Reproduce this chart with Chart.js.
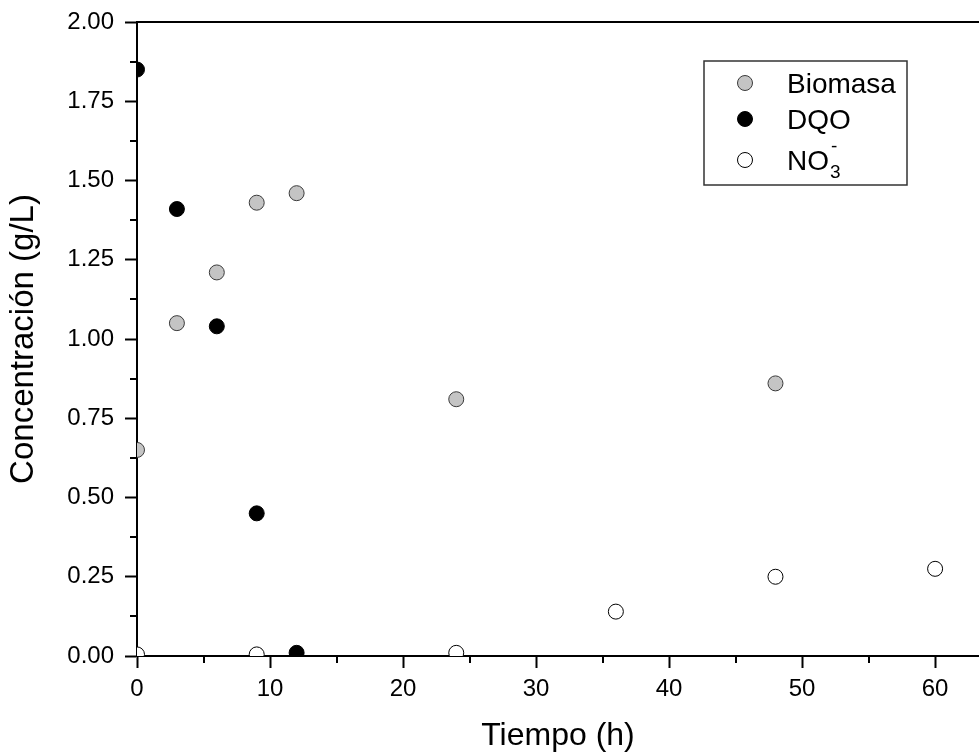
<!DOCTYPE html>
<html><head><meta charset="utf-8">
<script src="https://cdn.jsdelivr.net/npm/chart.js@4/dist/chart.umd.min.js"></script>
<style>html,body{margin:0;padding:0;background:#fff}#wrap{width:979px;height:755px}</style>
</head><body><div id="wrap"><canvas id="c" width="979" height="755"></canvas></div>
<script>
// ---- data ----
const biomasaTime = [0, 3, 6, 9, 12, 24, 48];
const biomasaConc = [0.65, 1.05, 1.21, 1.43, 1.46, 0.81, 0.86];
const dqoTime = [0, 3, 6, 9, 12];
const dqoConc = [1.85, 1.41, 1.04, 0.45, 0.01];
const no3Time = [0, 9, 24, 36, 48, 60];
const no3Conc = [0.005, 0.005, 0.01, 0.14, 0.25, 0.275];
const seriesNames = ['Biomasa', 'DQO', 'NO3-'];
const xMajorTicks = [0, 10, 20, 30, 40, 50, 60];
const xMinorTicks = [5, 15, 25, 35, 45, 55];
const yMajorTicks = [0, 0.25, 0.5, 0.75, 1.0, 1.25, 1.5, 1.75, 2.0];
const yMinorTicks = [0.125, 0.375, 0.625, 0.875, 1.125, 1.375, 1.625, 1.875];
const xTitle = 'Tiempo (h)';
const yTitle = 'Concentración (g/L)';

const FONT = '"Liberation Sans", Arial, Helvetica, sans-serif';
const toPts = (xs, ys) => xs.map((x, i) => ({x: x, y: ys[i]}));

const extras = {
  id: 'extras',
  afterDraw(chart) {
    const ctx = chart.ctx, a = chart.chartArea;
    const xs = chart.scales.x, ys = chart.scales.y;
    ctx.save();
    ctx.strokeStyle = '#000';
    ctx.lineWidth = 2;
    // top frame line
    ctx.beginPath();
    ctx.moveTo(a.left, a.top);
    ctx.lineTo(chart.width, a.top);
    ctx.stroke();
    // minor ticks
    xMinorTicks.forEach(v => {
      const p = Math.round(xs.getPixelForValue(v));
      ctx.beginPath(); ctx.moveTo(p, a.bottom); ctx.lineTo(p, a.bottom + 7); ctx.stroke();
    });
    yMinorTicks.forEach(v => {
      const p = Math.round(ys.getPixelForValue(v));
      ctx.beginPath(); ctx.moveTo(a.left, p); ctx.lineTo(a.left - 7, p); ctx.stroke();
    });
    // legend box
    const bx = 704, by = 61, bw = 203, bh = 124;
    ctx.lineWidth = 1.5;
    ctx.strokeStyle = '#333';
    ctx.strokeRect(bx, by, bw, bh);
    const rowY = [83, 119, 160];
    chart.data.datasets.forEach((ds, i) => {
      const cy = rowY[i];
      ctx.beginPath();
      ctx.arc(745, cy, 7.5, 0, Math.PI * 2);
      ctx.fillStyle = ds.pointBackgroundColor;
      ctx.fill();
      ctx.lineWidth = 1;
      ctx.strokeStyle = ds.pointBorderColor;
      ctx.stroke();
      ctx.fillStyle = '#000';
      ctx.textBaseline = 'alphabetic';
      ctx.textAlign = 'left';
      ctx.font = '28px ' + FONT;
      const m = /^([A-Za-z]+)(\d)(-)$/.exec(ds.label);
      if (m) {
        ctx.fillText(m[1], 787, cy + 10);
        const w = ctx.measureText(m[1]).width;
        ctx.font = '19px ' + FONT;
        ctx.fillText('-', w + 789, cy - 8);
        ctx.fillText(m[2], w + 788, cy + 18);
      } else {
        ctx.fillText(ds.label, 787, cy + 10);
      }
    });
    ctx.restore();
  }
};

const common = {pointRadius: 7.5, pointHoverRadius: 7.5, pointBorderWidth: 1, showLine: false, clip: 0};

new Chart(document.getElementById('c'), {
  type: 'scatter',
  data: {
    datasets: [
      Object.assign({label: seriesNames[0], data: toPts(biomasaTime, biomasaConc),
        pointBackgroundColor: '#c4c4c4', pointBorderColor: '#3a3a3a'}, common),
      Object.assign({label: seriesNames[1], data: toPts(dqoTime, dqoConc),
        pointBackgroundColor: '#000000', pointBorderColor: '#000000'}, common),
      Object.assign({label: seriesNames[2], data: toPts(no3Time, no3Conc),
        pointBackgroundColor: '#ffffff', pointBorderColor: '#000000'}, common)
    ]
  },
  options: {
    responsive: false,
    animation: false,
    devicePixelRatio: 1,
    layout: {autoPadding: false, padding: {top: 22, right: 0, bottom: 0, left: 0}},
    plugins: {legend: {display: false}, tooltip: {enabled: false}},
    scales: {
      x: {
        type: 'linear', min: 0, max: 63.3,
        afterBuildTicks: s => { s.ticks = xMajorTicks.map(v => ({value: v})); },
        afterFit: s => { s.height = 99; s.paddingLeft = 0; s.paddingRight = 0; },
        border: {display: true, color: '#000', width: 2},
        grid: {display: true, drawOnChartArea: false, drawTicks: true, tickLength: 12, tickColor: '#000', tickWidth: 2},
        ticks: {color: '#000', font: {family: FONT, size: 24}, padding: 7, maxRotation: 0,
          callback: v => String(v)},
        title: {display: true, text: xTitle, color: '#000', font: {family: FONT, size: 32}, padding: {top: 0, bottom: 0}}
      },
      y: {
        type: 'linear', min: 0, max: 2,
        afterBuildTicks: s => { s.ticks = yMajorTicks.map(v => ({value: v})); },
        afterFit: s => { s.width = 137; s.paddingTop = 0; s.paddingBottom = 0; },
        border: {display: true, color: '#000', width: 2},
        grid: {display: true, drawOnChartArea: false, drawTicks: true, tickLength: 12, tickColor: '#000', tickWidth: 2},
        ticks: {color: '#000', font: {family: FONT, size: 24}, padding: 11,
          callback: v => Number(v).toFixed(2)},
        title: {display: true, text: yTitle, color: '#000', font: {family: FONT, size: 33}, padding: {top: 4, bottom: 0}}
      }
    }
  },
  plugins: [extras]
});
</script>
</body></html>
